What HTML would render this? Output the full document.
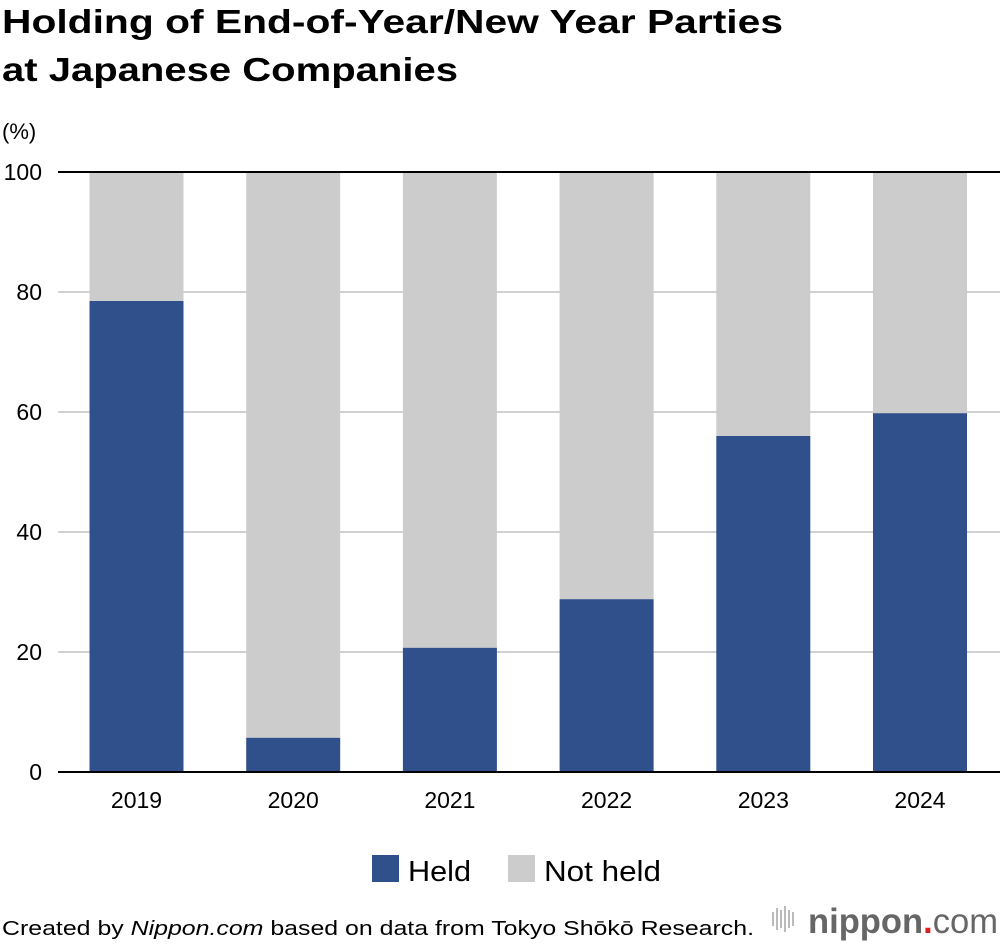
<!DOCTYPE html>
<html><head><meta charset="utf-8"><style>
body{margin:0;width:1000px;height:946px;background:#fff;font-family:"Liberation Sans",sans-serif;overflow:hidden}
svg{display:block}
</style></head><body>
<svg width="1000" height="946">
<text x="2" y="33" font-size="33" font-weight="bold" fill="#000" textLength="781" lengthAdjust="spacingAndGlyphs">Holding of End-of-Year/New Year Parties</text>
<text x="2" y="81" font-size="33" font-weight="bold" fill="#000" textLength="456" lengthAdjust="spacingAndGlyphs">at Japanese Companies</text>
<text x="2" y="139" font-size="22" fill="#000">(%)</text>
<g id="grid"></g><g id="bars"></g><g id="axes"></g>
<g>
<rect x="372" y="855" width="27" height="27" fill="#30508c"/>
<text x="408" y="881" font-size="29" textLength="63" lengthAdjust="spacingAndGlyphs">Held</text>
<rect x="508" y="855" width="27" height="27" fill="#cccccc"/>
<text x="544" y="881" font-size="29" textLength="117" lengthAdjust="spacingAndGlyphs">Not held</text>
</g>
<text x="2" y="935" font-size="20" textLength="752" lengthAdjust="spacingAndGlyphs">Created by <tspan font-style="italic">Nippon.com</tspan> based on data from Tokyo Shōkō Research.</text>
<g>
<g fill="#bbb"><rect x="772" y="912" width="2" height="14"/><rect x="776" y="908" width="2" height="22"/><rect x="780" y="910" width="2" height="18"/><rect x="784" y="906" width="2" height="26"/><rect x="788" y="910" width="2" height="18"/><rect x="792" y="912" width="2" height="14"/></g>
<text x="808" y="933" font-size="35" font-weight="bold" fill="#666" textLength="190" lengthAdjust="spacingAndGlyphs">nippon<tspan fill="#e02020">.</tspan><tspan font-weight="normal">com</tspan></text>
</g>
</svg>
<script>
const categories=["2019","2020","2021","2022","2023","2024"];
const held=[78.5,5.7,20.7,28.8,56,59.8];
const notHeld=[21.5,94.3,79.3,71.2,44,40.2];
const yTicks=[0,20,40,60,80,100];
const NS="http://www.w3.org/2000/svg";
const x0=58,x1=1000,yBase=772,yTop=172;
const y=v=>yBase-(v/100)*(yBase-yTop);
const step=156.7;
const bw=94;
const xc=i=>136.5+step*i;
function mk(t,a,p){const e=document.createElementNS(NS,t);for(const k in a)e.setAttribute(k,a[k]);p.appendChild(e);return e;}
const grid=document.getElementById('grid'),bars=document.getElementById('bars'),axes=document.getElementById('axes');
yTicks.forEach(v=>{
 const l=mk('line',{x1:x0,x2:x1,y1:y(v),y2:y(v),stroke:(v===0||v===100)?'#000':'#d0d0d0','stroke-width':2},(v===0||v===100)?axes:grid);
 
 
 const t=mk('text',{x:42,y:y(v)+8,'font-size':23,'text-anchor':'end'},axes);
 t.textContent=v;
 
 
});
categories.forEach((c,i)=>{
 const cx=xc(i);
 const r1=mk('rect',{x:cx-bw/2,y:y(held[i]+notHeld[i]),width:bw,height:y(held[i])-y(held[i]+notHeld[i]),fill:'#cccccc'},bars);
 
 
 const r2=mk('rect',{x:cx-bw/2,y:y(held[i]),width:bw,height:y(0)-y(held[i]),fill:'#30508c'},bars);
 
 
 const t=mk('text',{x:cx,y:808,'font-size':23,'text-anchor':'middle'},axes);
 t.textContent=c;
 
 
});
</script>
</body></html>
